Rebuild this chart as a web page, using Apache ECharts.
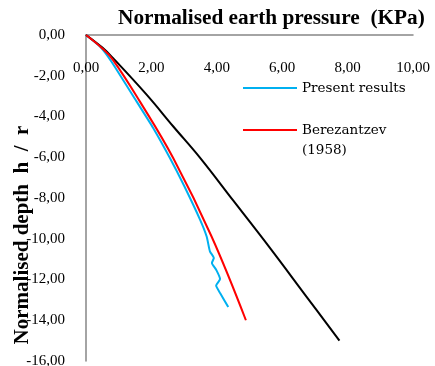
<!DOCTYPE html>
<html>
<head>
<meta charset="utf-8">
<script src="https://cdn.jsdelivr.net/npm/echarts@6/dist/echarts.min.js"></script>
<style>
  html, body { margin: 0; padding: 0; background: #fff; }
  #chart { width: 435px; height: 366px; }
</style>
</head>
<body>
<div id="chart"></div>
<script>
// Normalised earth pressure (x) against normalised depth h/r (y, negative downwards)
const xTicks = [0, 2, 4, 6, 8, 10];
const yTicks = [0, -2, -4, -6, -8, -10, -12, -14, -16];

const presentPressure = [0, 0.45, 0.78, 1.55, 2.05, 2.57, 3.0, 3.49, 3.69, 3.79, 3.91, 3.85, 3.98, 4.10, 3.98, 4.10, 4.35];
const presentDepth    = [0, -0.6, -1.31, -3.27, -4.55, -6.05, -7.4, -9.07, -9.89, -10.62, -10.95, -11.19, -11.52, -11.98, -12.3, -12.66, -13.35];

const berezPressure = [0, 0.5, 0.83, 1.65, 2.67, 3.84, 4.89];
const berezDepth    = [0, -0.66, -1.23, -3.27, -6.05, -9.89, -14.0];

const series3Pressure = [0, 0.5, 0.83, 1.86, 2.67, 3.49, 4.5, 5.63, 6.7, 7.75];
const series3Depth    = [0, -0.62, -1.14, -2.94, -4.49, -6.03, -8.12, -10.46, -12.75, -15.0];

const seriesNames = ['Present results', 'Berezantzev (1958)', 'Series 3'];

function pairs(xs, ys) { return xs.map((x, i) => [x, ys[i]]); }
function comma(v) { return v.toFixed(2).replace('.', ','); }

const serif = 'Liberation Serif';
const legendFont = 'DejaVu Serif';
const axisGrey = '#868686';

const chart = echarts.init(document.getElementById('chart'));
chart.setOption({
  animation: false,
  backgroundColor: '#fff',
  title: {
    text: 'Normalised earth pressure  (KPa)',
    left: 118, top: 8, padding: 0,
    textStyle: { fontFamily: serif, fontWeight: 'bold', fontSize: 21.3, color: '#000' }
  },
  legend: {
    orient: 'vertical', left: 243, top: 78, padding: 0, itemGap: 2,
    itemWidth: 54, itemHeight: 2, icon: 'rect',
    data: [seriesNames[0], seriesNames[1]],
    // second entry wraps; a blank first line keeps its first row level with the swatch
    formatter: n => n.indexOf(' (') > 0 ? ' \n' + n.replace(' (', '\n(') : n,
    textStyle: { fontFamily: legendFont, fontSize: 13.5, lineHeight: 20, color: '#000' }
  },
  grid: { left: 86, right: 22, top: 35, bottom: 5, containLabel: false, outerBoundsMode: 'none' },
  xAxis: {
    type: 'value', position: 'top',
    min: xTicks[0], max: xTicks[xTicks.length - 1], interval: 2,
    axisLine: { show: true, onZero: false, lineStyle: { color: axisGrey, width: 1.5 } },
    axisTick: { show: false },
    splitLine: { show: false },
    axisLabel: {
      margin: -41, formatter: comma,
      fontFamily: serif, fontSize: 15, color: '#000'
    }
  },
  yAxis: {
    type: 'value',
    min: yTicks[yTicks.length - 1], max: yTicks[0], interval: 2,
    name: 'Normalised depth  h  /  r',
    nameLocation: 'middle', nameRotate: 90, nameGap: 53, nameMoveOverlap: false,
    nameTextStyle: { fontFamily: serif, fontWeight: 'bold', fontSize: 21, color: '#000', padding: [0, 74, 0, 0] },
    axisLine: { show: true, onZero: false, lineStyle: { color: axisGrey, width: 1.5 } },
    axisTick: { show: false },
    splitLine: { show: false },
    axisLabel: { margin: 21, formatter: comma, fontFamily: serif, fontSize: 15, color: '#000' }
  },
  series: [
    {
      name: seriesNames[2], type: 'line', symbol: 'none', z: 2, smooth: 0.4,
      data: pairs(series3Pressure, series3Depth),
      lineStyle: { color: '#000', width: 2 }, itemStyle: { color: '#000' }
    },
    {
      name: seriesNames[1], type: 'line', symbol: 'none', z: 3, smooth: 0.4,
      data: pairs(berezPressure, berezDepth),
      lineStyle: { color: '#ff0000', width: 2 }, itemStyle: { color: '#ff0000' }
    },
    {
      name: seriesNames[0], type: 'line', symbol: 'none', z: 1, smooth: 0.2,
      data: pairs(presentPressure, presentDepth),
      lineStyle: { color: '#00b0f0', width: 2 }, itemStyle: { color: '#00b0f0' }
    }
  ]
});
</script>
</body>
</html>
